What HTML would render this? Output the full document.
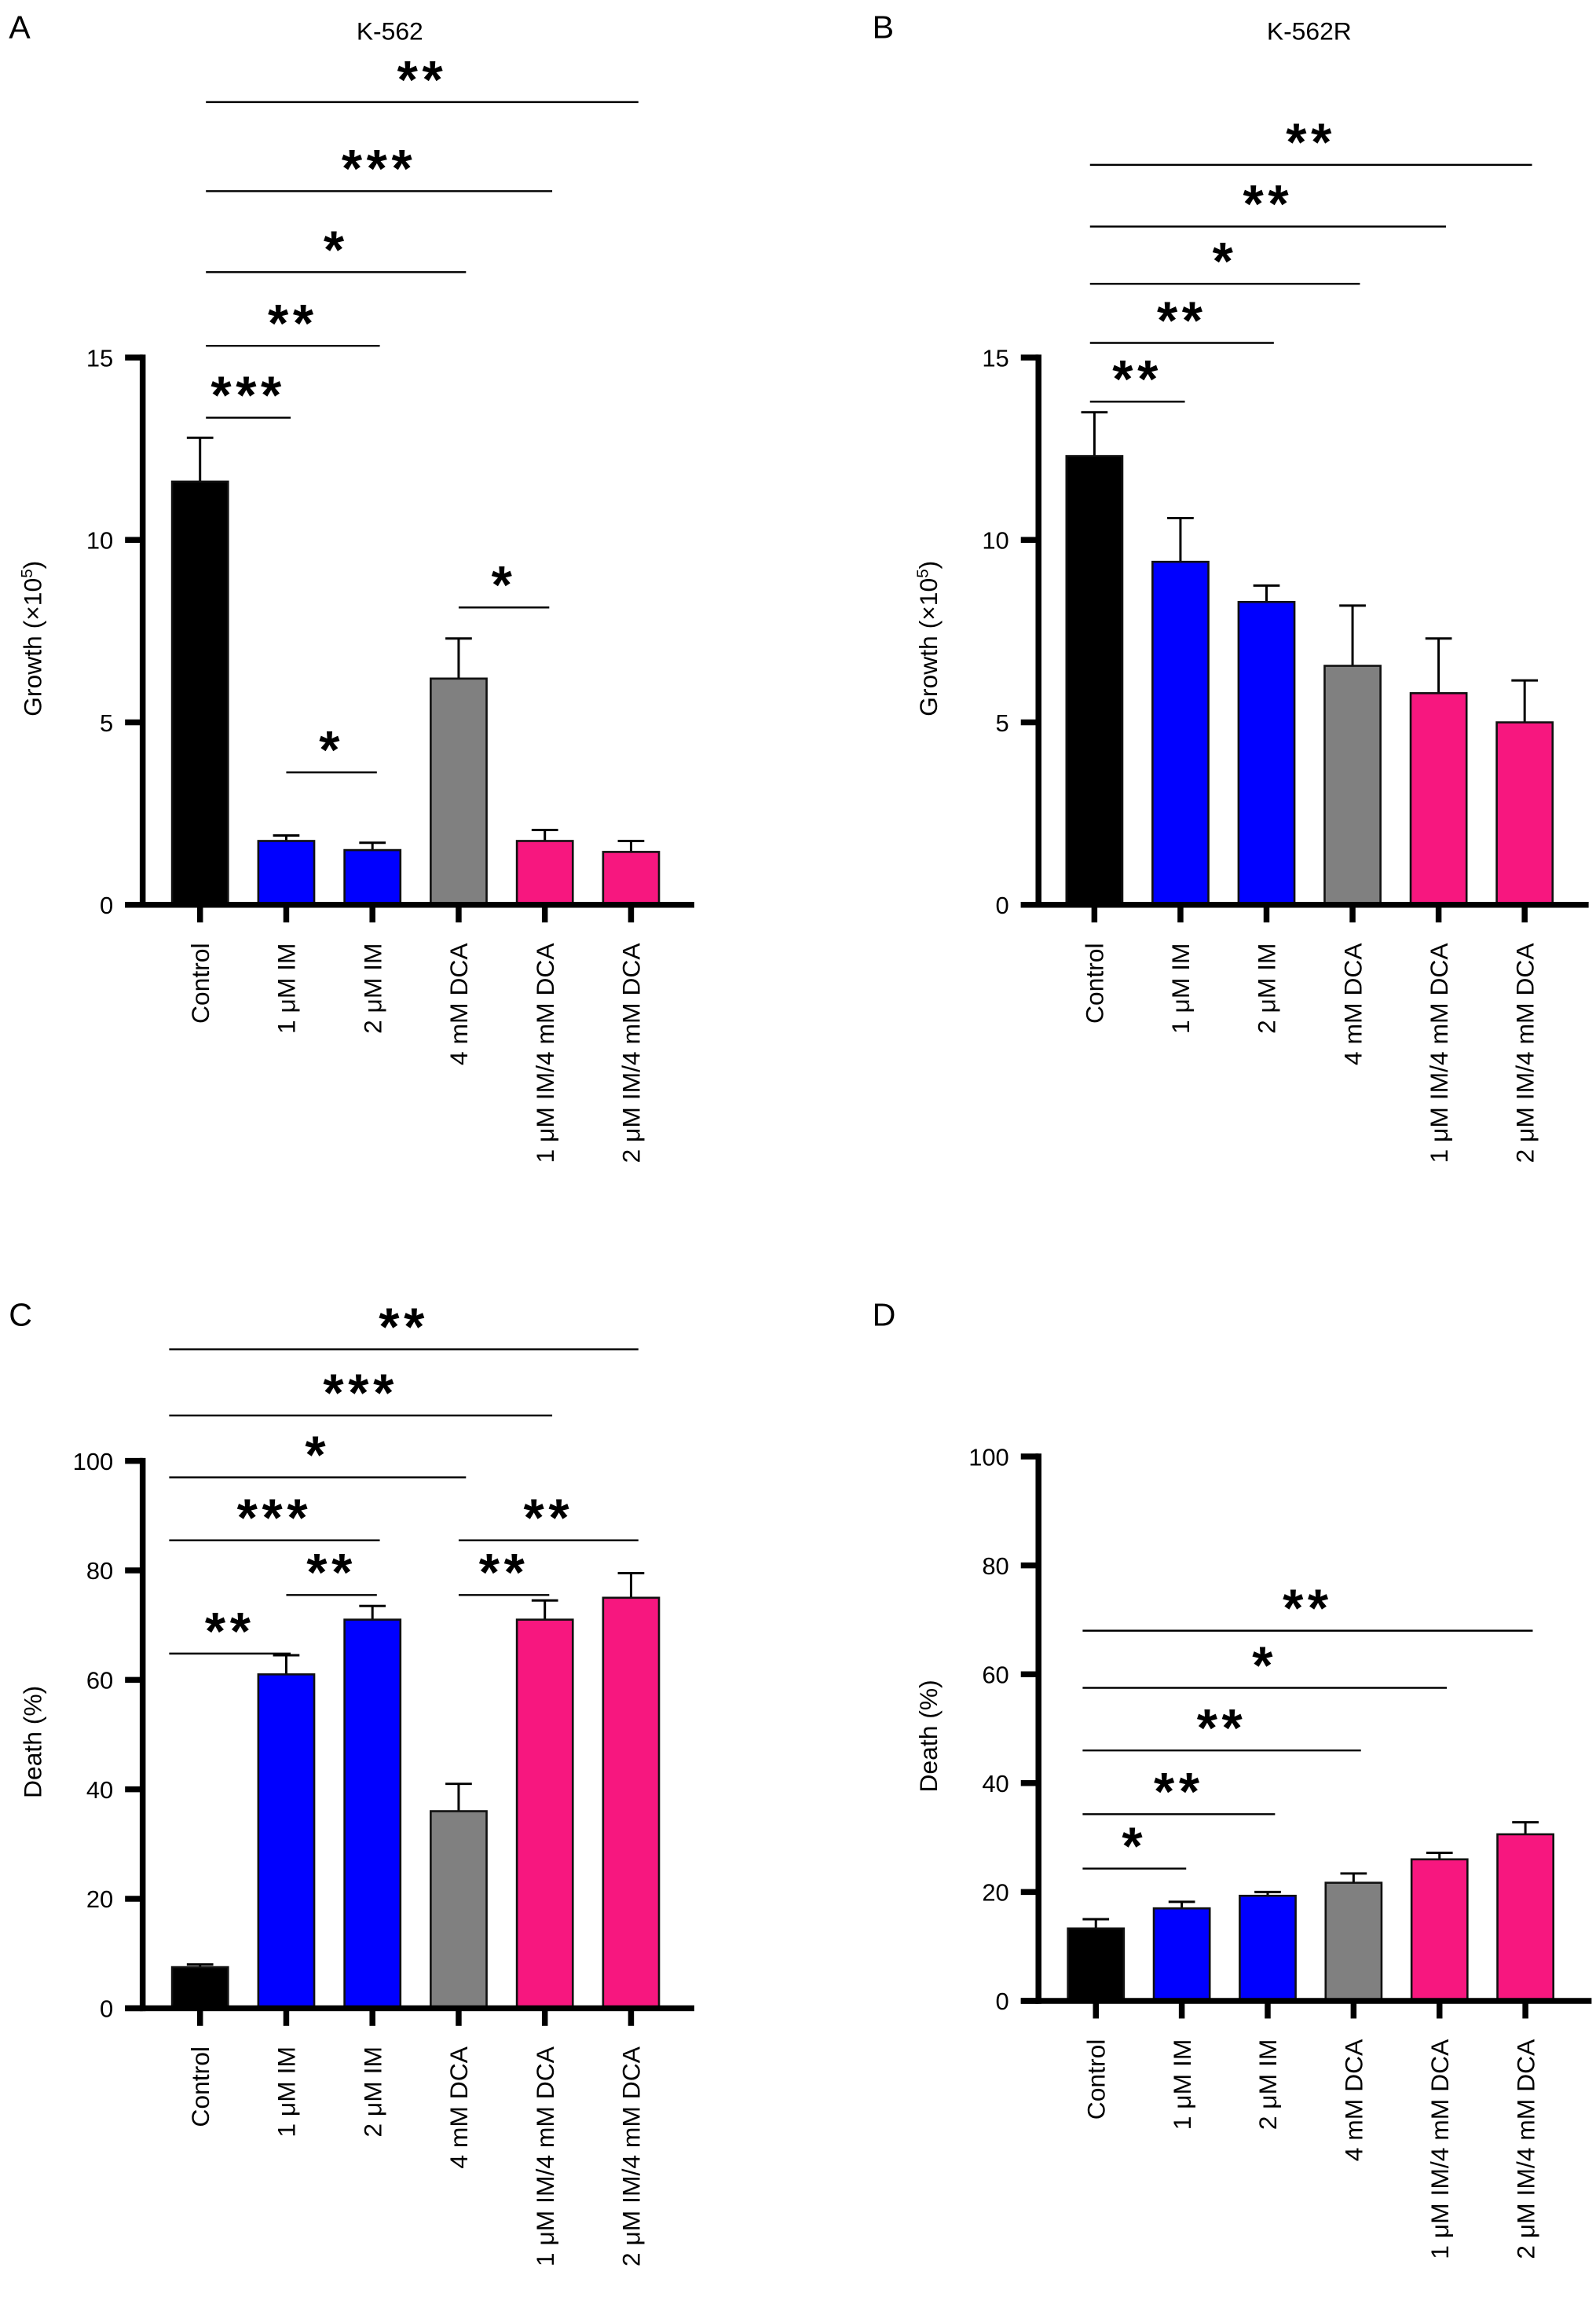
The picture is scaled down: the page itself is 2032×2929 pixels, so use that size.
<!DOCTYPE html>
<html><head><meta charset="utf-8"><style>
html,body{margin:0;padding:0;background:#fff;}
svg{display:block;}
text{font-family:"Liberation Sans",sans-serif;fill:#000;}
</style></head><body>
<svg id="fig" width="2032" height="2929" viewBox="0 0 1085 1564" preserveAspectRatio="none"></svg>
<script>
const categories = ["Control","1 \u03bcM IM","2 \u03bcM IM","4 mM DCA","1 \u03bcM IM/4 mM DCA","2 \u03bcM IM/4 mM DCA"];
const colors = ["#000000","#0000ff","#0000ff","#808080","#f7177f","#f7177f"];
const growthK562 = [11.6,1.75,1.5,6.2,1.75,1.45];
const growthK562Err = [1.2,0.15,0.2,1.1,0.3,0.3];
const growthK562R = [12.3,9.4,8.3,6.55,5.8,5.0];
const growthK562RErr = [1.2,1.2,0.45,1.65,1.5,1.15];
const deathK562 = [7.5,61,71,36,71,75];
const deathK562Err = [0.5,3.5,2.5,5,3.5,4.5];
const deathK562R = [13.3,17,19.3,21.7,26,30.6];
const deathK562RErr = [1.7,1.2,0.7,1.7,1.2,2.2];
const growthTicks = [0,5,10,15];
const deathTicks = [0,20,40,60,80,100];
// significance brackets: [fromIndex, toIndex, value-level, stars]
const sigA = [[0,5,22.0,"**"],[0,4,19.56,"***"],[0,3,17.34,"*"],[0,2,15.32,"**"],[0,1,13.35,"***"],[1,2,3.63,"*"],[3,4,8.15,"*"]];
const sigB = [[0,5,20.28,"**"],[0,4,18.59,"**"],[0,3,17.02,"*"],[0,2,15.4,"**"],[0,1,13.79,"**"]];
const sigC = [[0,5,120.4,"**"],[0,4,108.3,"***"],[0,3,97,"*"],[0,2,85.5,"***"],[1,2,75.5,"**"],[3,5,85.5,"**"],[3,4,75.5,"**"],[0,1,64.8,"**"]];
const sigD = [[0,5,68,"**"],[0,4,57.5,"*"],[0,3,46,"**"],[0,2,34.3,"**"],[0,1,24.3,"*"]];

const NS="http://www.w3.org/2000/svg";
const svg=document.getElementById('fig');
function el(tag,attrs,parent){const e=document.createElementNS(NS,tag);for(const k in attrs)e.setAttribute(k,attrs[k]);(parent||svg).appendChild(e);return e;}

function panel(o){
  const g=el('g',{});
  
  
  const y=v=>o.y0-(v-o.ymin)/(o.ymax-o.ymin)*(o.y0-o.ytop);
  const x=i=>o.x0+o.first+i*o.step;
  const bw=38;
  o.vals.forEach((v,i)=>{
    const e=el('line',{x1:x(i),x2:x(i),y1:y(v),y2:y(v+o.errs[i]),stroke:'#000','stroke-width':1.6},g);
    
    
    const c=el('line',{x1:x(i)-9,x2:x(i)+9,y1:y(v+o.errs[i]),y2:y(v+o.errs[i]),stroke:'#000','stroke-width':1.6},g);
    
    
    const r=el('rect',{x:x(i)-bw/2,y:y(v),width:bw,height:o.y0-y(v),fill:colors[i],stroke:'#111','stroke-width':1.4},g);
    
    
    const t=el('line',{x1:x(i),x2:x(i),y1:o.y0,y2:o.y0+12,stroke:'#000','stroke-width':4},g);
    
    
    const lb=el('text',{x:0,y:0,'font-size':17,'text-anchor':'end',transform:`translate(${x(i)+6},${o.y0+26}) rotate(-90)`},g);
    lb.textContent=categories[i];
    
    
  });
  const ax=el('line',{x1:o.x0,x2:o.x0,y1:o.ytop-2,y2:o.y0+2,stroke:'#000','stroke-width':4},g);
  
  
  const bx=el('line',{x1:o.x0-12,x2:o.xend,y1:o.y0,y2:o.y0,stroke:'#000','stroke-width':4},g);
  
  
  o.ticks.forEach(tv=>{
    const t=el('line',{x1:o.x0-12,x2:o.x0,y1:y(tv),y2:y(tv),stroke:'#000','stroke-width':4},g);
    
    
    const l=el('text',{x:o.x0-20,y:y(tv)+6,'font-size':16.5,'text-anchor':'end'},g);
    l.textContent=tv;
    
    
  });
  const yt=el('text',{x:0,y:0,'font-size':17,'text-anchor':'middle',transform:`translate(${o.x0-69},${(o.y0+o.ytop)/2+5}) rotate(-90)`},g);
  
  
  if(o.growth){yt.innerHTML='Growth (\u00d710<tspan dy="-6" font-size="11">5</tspan><tspan dy="6">)</tspan>';}
  else yt.textContent='Death (%)';
  o.sig.forEach(s=>{
    const x1=x(s[0])+(s[0]===0?o.sigL:0), x2=x(s[1])+(s[1]-s[0]>1?5:3);
    const yy=y(s[2]);
    const l=el('line',{x1:x1,x2:x2,y1:yy,y2:yy,stroke:'#000','stroke-width':1.3},g);
    
    
    const t=el('text',{x:(x1+x2)/2,y:yy-3,'font-size':36,'font-weight':'bold','text-anchor':'middle','letter-spacing':3},g);
    t.textContent=s[3];
    
    
  });
  const L=el('text',{x:o.lx,y:o.ly,'font-size':22},g);
  L.textContent=o.letter;
  
  
  if(o.title){const T=el('text',{x:o.tx,y:27,'font-size':17,'text-anchor':'middle'},g);T.textContent=o.title;
    
    }
}
panel({name:'panel-a',letter:'A',lx:6,ly:26,title:'K-562',tx:265,growth:true,x0:97,xend:472,first:39,step:58.6,y0:615,ytop:243,ymin:0,ymax:15,ticks:growthTicks,vals:growthK562,errs:growthK562Err,sig:sigA,sigL:4});
panel({name:'panel-b',letter:'B',lx:593,ly:26,title:'K-562R',tx:890,growth:true,x0:706,xend:1080,first:38,step:58.5,y0:615,ytop:243,ymin:0,ymax:15,ticks:growthTicks,vals:growthK562R,errs:growthK562RErr,sig:sigB,sigL:-3});
panel({name:'panel-c',letter:'C',lx:6,ly:901,growth:false,x0:97,xend:472,first:39,step:58.6,y0:1365,ytop:993,ymin:0,ymax:100,ticks:deathTicks,vals:deathK562,errs:deathK562Err,sig:sigC,sigL:-21});
panel({name:'panel-d',letter:'D',lx:593,ly:901,growth:false,x0:706,xend:1082,first:39,step:58.4,y0:1360,ytop:990,ymin:0,ymax:100,ticks:deathTicks,vals:deathK562R,errs:deathK562RErr,sig:sigD,sigL:-9});
</script>
</body></html>
